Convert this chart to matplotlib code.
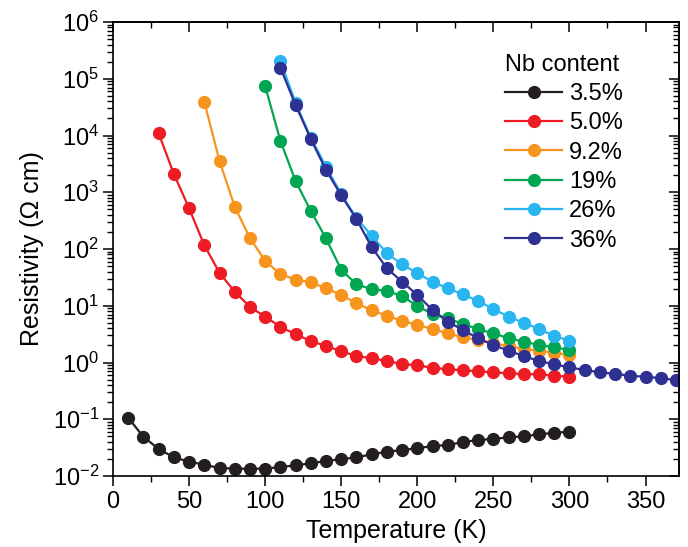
import numpy as np
import matplotlib
matplotlib.use("Agg")
import matplotlib.pyplot as plt
from matplotlib.ticker import LogLocator, MultipleLocator, NullFormatter

plt.rcParams['font.family'] = ['Liberation Sans', 'DejaVu Sans']
plt.rcParams['mathtext.default'] = 'regular'

# Resistivity vs temperature for each Nb content
labels = ['3.5%', '5.0%', '9.2%', '19%', '26%', '36%']
colors = ['#231f20', '#ed1c24', '#f7941d', '#00a651', '#29b6f0', '#2e3192']

T_35 = np.arange(10, 301, 10)
rho_35 = [0.106, 0.049, 0.030, 0.0213, 0.0179, 0.0158, 0.0138, 0.0135, 0.0134, 0.0135,
          0.0144, 0.0154, 0.0167, 0.0184, 0.0198, 0.0213, 0.0241, 0.0268, 0.0287, 0.0307,
          0.0338, 0.0351, 0.0397, 0.043, 0.045, 0.048, 0.050, 0.054, 0.058, 0.060]

T_50 = np.arange(30, 301, 10)
rho_50 = [1.09e4, 2100, 521, 117, 38, 17.7, 9.6, 6.4, 4.27, 3.14,
          2.39, 1.95, 1.58, 1.30, 1.19, 1.06, 0.94, 0.89, 0.81, 0.76,
          0.73, 0.70, 0.67, 0.645, 0.627, 0.62, 0.585, 0.562]

T_92 = np.arange(60, 301, 10)
rho_92 = [3.94e4, 3560, 557, 156, 62, 36, 29, 25.9, 20.3, 15.6,
          11.0, 8.4, 6.6, 5.45, 4.58, 3.89, 3.27, 2.78, 2.49, 2.18,
          1.95, 1.73, 1.61, 1.49, 1.35]

T_19 = np.arange(100, 301, 10)
rho_19 = [7.45e4, 8090, 1580, 468, 154, 43, 23.9, 19.5, 18.2, 14.9,
          9.9, 7.16, 6.0, 4.77, 3.85, 3.27, 2.67, 2.33, 2.03, 1.85, 1.66]

T_26 = np.arange(110, 301, 10)
rho_26 = [2.06e5, 3.78e4, 9150, 2820, 931, 350, 172, 84, 53.7, 37.3,
          26.5, 20.3, 15.9, 12.1, 8.77, 6.41, 5.03, 3.89, 2.93, 2.42]

T_36 = np.arange(110, 371, 10)
rho_36 = [1.57e5, 3.45e4, 8670, 2470, 877, 338, 108, 45.7, 26.5, 15.5,
          8.4, 5.24, 3.74, 2.67, 2.03, 1.61, 1.30, 1.06, 0.93, 0.82,
          0.74, 0.67, 0.63, 0.585, 0.56, 0.53, 0.49]

series = [(T_35, rho_35), (T_50, rho_50), (T_92, rho_92),
          (T_19, rho_19), (T_26, rho_26), (T_36, rho_36)]

fig = plt.figure(figsize=(6.88, 5.47), dpi=100)
ax = fig.add_axes([113/688, 1 - 476/547, 566/688, 454/547])

for (T, rho), c, lab in zip(series, colors, labels):
    ax.plot(T, rho, '-o', color=c, mfc=c, mec=c, lw=1.6, ms=8.5, label=lab)

ax.set_yscale('log')
ax.set_xlim(0, 372)
ax.set_ylim(1e-2, 1e6)

ax.xaxis.set_major_locator(MultipleLocator(50))
ax.xaxis.set_minor_locator(MultipleLocator(25))
ax.yaxis.set_minor_locator(LogLocator(base=10, subs=np.arange(2, 10), numticks=20))
ax.yaxis.set_minor_formatter(NullFormatter())
yt = np.arange(-2, 7)
ax.set_yticks(10.0 ** yt)
ax.set_yticklabels([r'$10^{%d}$' % p for p in yt])

ax.tick_params(axis='both', which='major', labelsize=17, width=1.1, length=7)
ax.tick_params(axis='both', which='minor', width=1.0, length=4)
ax.tick_params(axis='x', which='both', direction='out', top=False, pad=4)
ax.tick_params(axis='y', which='both', direction='out', right=False, pad=3)

# inward ticks on the top and right edges
secx = ax.secondary_xaxis('top')
secx.xaxis.set_major_locator(MultipleLocator(50))
secx.xaxis.set_minor_locator(MultipleLocator(25))
secx.tick_params(which='major', direction='in', length=7, width=1.1, labeltop=False)
secx.tick_params(which='minor', direction='in', length=4, width=1.0)
secy = ax.secondary_yaxis('right')
secy.yaxis.set_major_locator(LogLocator(base=10, numticks=20))
secy.yaxis.set_minor_locator(LogLocator(base=10, subs=np.arange(2, 10), numticks=20))
secy.yaxis.set_minor_formatter(NullFormatter())
secy.tick_params(which='major', direction='in', length=7, width=1.1, labelright=False)
secy.tick_params(which='minor', direction='in', length=4, width=1.0)

for s in list(ax.spines.values()) + [secx.spines['top'], secy.spines['right']]:
    s.set_linewidth(1.2)

ax.set_xlabel('Temperature (K)', fontsize=18, labelpad=4)
ax.set_ylabel('Resistivity (\u03a9 cm)', fontsize=18, labelpad=6)

ax.legend(title='Nb content', loc='upper left', bbox_to_anchor=(0.693, 0.93),
          frameon=False, fontsize=17, title_fontsize=17, alignment='left',
          handlelength=2.4, handletextpad=0.3, labelspacing=0.31,
          borderpad=0, borderaxespad=0)

fig.savefig('out.png', dpi=100)
